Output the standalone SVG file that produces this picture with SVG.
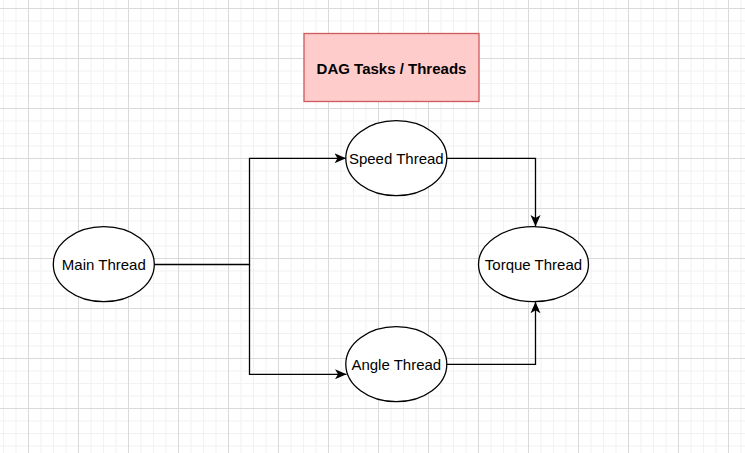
<svg xmlns="http://www.w3.org/2000/svg" width="745" height="453" viewBox="0 0 745 453">
<style>
.node ellipse{fill:#fff;stroke:#000;stroke-width:1.3}
.lbl{font-family:"Liberation Sans",Arial,sans-serif;font-size:15px;fill:#000;text-anchor:middle;dominant-baseline:central}
.edge{fill:none;stroke:#000;stroke-width:1.3}
</style>
<defs>
<pattern id="grid" x="28" y="8" width="50" height="50" patternUnits="userSpaceOnUse">
<rect x="12.5" y="0" width="1" height="50" fill="#f2f2f2"/>
<rect x="25" y="0" width="1" height="50" fill="#f2f2f2"/>
<rect x="37.5" y="0" width="1" height="50" fill="#f2f2f2"/>
<rect x="0" y="12.5" width="50" height="1" fill="#f2f2f2"/>
<rect x="0" y="25" width="50" height="1" fill="#f2f2f2"/>
<rect x="0" y="37.5" width="50" height="1" fill="#f2f2f2"/>
<rect x="0" y="0" width="1" height="50" fill="#dadada"/>
<rect x="0" y="0" width="50" height="1" fill="#dadada"/>
</pattern>
<marker id="arr" viewBox="0 0 12 12" refX="11.5" refY="6" markerWidth="12" markerHeight="12" markerUnits="userSpaceOnUse" orient="auto">
<path d="M0,1 L11.5,6 L0,11 L3,6 Z" fill="#000"/>
</marker>
</defs>
<rect width="745" height="453" fill="#fff"/>
<rect width="745" height="453" fill="url(#grid)"/>
<g id="connectors">
<path class="edge" d="M154.3,264.5 H249.5 V158.3 H346" marker-end="url(#arr)"/>
<path class="edge" d="M249.5,264.5 V374.3 H346.5" marker-end="url(#arr)"/>
<path class="edge" d="M446.7,158.3 H535.5 V226.5" marker-end="url(#arr)"/>
<path class="edge" d="M446.7,364.3 H535.5 V301.8" marker-end="url(#arr)"/>
</g>
<g id="title">
<rect x="304" y="33.5" width="175" height="68" fill="#ffcccc" stroke="#cf5a5a" stroke-width="1.3"/>
<text class="lbl" x="391.5" y="68.5" font-weight="bold">DAG Tasks / Threads</text>
</g>
<g id="main" class="node">
<ellipse cx="103.8" cy="264.2" rx="50.5" ry="37.5"/>
<text class="lbl" x="103.8" y="264.5">Main Thread</text>
</g>
<g id="speed" class="node">
<ellipse cx="396.3" cy="158.2" rx="50.5" ry="37.5"/>
<text class="lbl" x="396.3" y="158.5">Speed Thread</text>
</g>
<g id="angle" class="node">
<ellipse cx="396.3" cy="364.2" rx="50.5" ry="37.5"/>
<text class="lbl" x="396.3" y="364.5">Angle Thread</text>
</g>
<g id="torque" class="node">
<ellipse cx="533.5" cy="264.2" rx="55" ry="37.5"/>
<text class="lbl" x="533.5" y="264.5">Torque Thread</text>
</g>
</svg>
